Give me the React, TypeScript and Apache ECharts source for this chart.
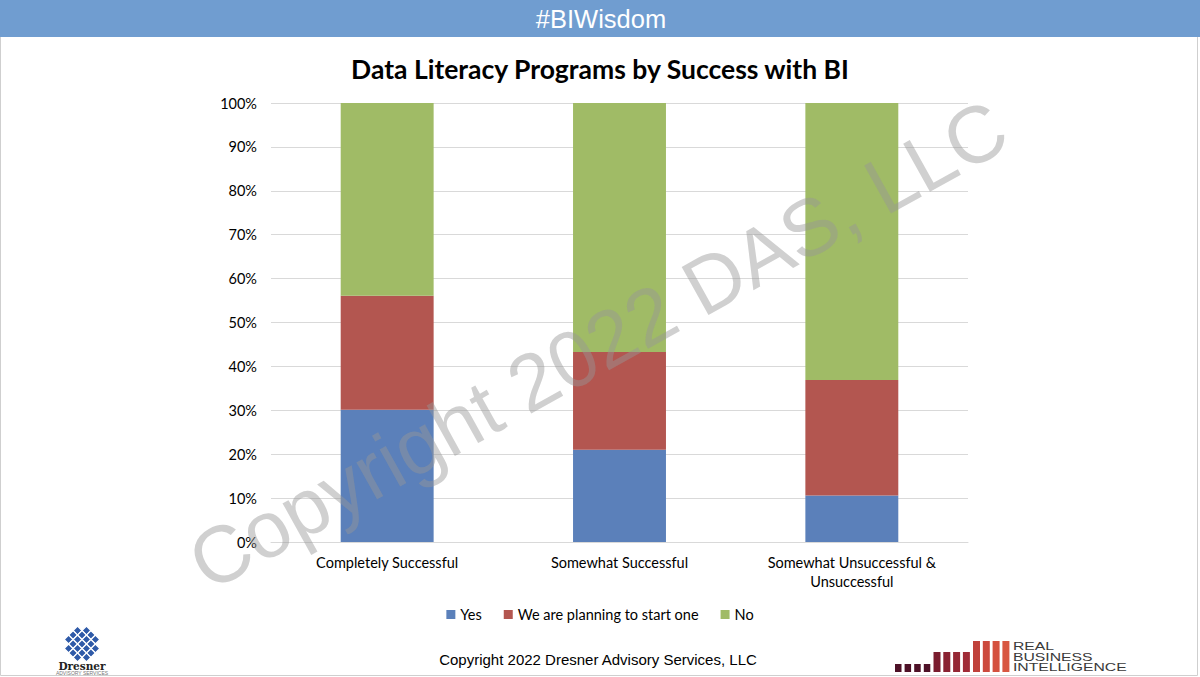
import React, { useEffect, useRef } from "react";
import * as echarts from "echarts";

const categories = ["Completely Successful", "Somewhat Successful", "Somewhat Unsuccessful &\nUnsuccessful"];
const seriesNames = ["Yes", "We are planning to start one", "No"];
const yesValues = [30.1, 21.0, 10.6];
const planningValues = [26.0, 22.3, 26.3];
const noValues = [43.9, 56.7, 63.1];
const seriesColors = ["#5B80BA", "#B35650", "#A0BB66"];

const smallBars = [0, 1, 2, 3];
const midBars = [0, 1, 2, 3];
const tallBars = [0, 1, 2, 3];

function buildRbiLogo(): any[] {
  const els: any[] = [];
  const bottom = 672;
  smallBars.forEach((i) => {
    els.push({ type: "rect", shape: { x: 895 + i * 9.6, y: bottom - 8, width: 6.5, height: 8 }, style: { fill: "#4e1127" } });
  });
  midBars.forEach((i) => {
    els.push({ type: "rect", shape: { x: 933.5 + i * 9.8, y: bottom - 20, width: 7, height: 20 }, style: { fill: ["#7a1c2e", "#8a2232", "#952734", "#a02b36"][i] } });
  });
  tallBars.forEach((i) => {
    els.push({ type: "rect", shape: { x: 973 + i * 9.8, y: bottom - 31, width: 7, height: 31 }, style: { fill: ["#c0413b", "#cc4a3d", "#d4513f", "#d85741"][i] } });
  });
  els.push({
    type: "text",
    x: 1013,
    y: 641.5,
    scaleX: 1.5,
    style: {
      text: "REAL\nBUSINESS\nINTELLIGENCE",
      x: 0,
      y: 0,
      fill: "#3a3a3a",
      font: "10.5px 'Liberation Sans', Arial, sans-serif",
      lineHeight: 10.5,
      verticalAlign: "top",
      align: "left",
    },
  });
  return els;
}

function buildDresnerLogo(): any[] {
  const els: any[] = [];
  const cx = 82;
  const cy = 644;
  const s = 6.2;
  const cells: number[][] = [];
  for (let r = -2; r <= 2; r++) {
    for (let c = -2; c <= 2; c++) {
      if (Math.abs(r) + Math.abs(c) <= 3 && !(Math.abs(r) === 2 && Math.abs(c) === 2)) cells.push([r, c]);
    }
  }
  cells.forEach(([r, c]) => {
    els.push({
      type: "rect",
      x: cx + (c - r) * s * 0.72,
      y: cy + (c + r) * s * 0.72,
      rotation: Math.PI / 4,
      shape: { x: -s / 2, y: -s / 2, width: s, height: s },
      style: { fill: "#2f5aa8", stroke: "#ffffff", lineWidth: 1.2 },
    });
  });
  els.push({ type: "text", style: { text: "Dresner", x: cx, y: 665.5, fill: "#222", font: "bold 10.5px 'DejaVu Serif', serif", align: "center", verticalAlign: "middle" } });
  els.push({ type: "text", style: { text: "ADVISORY SERVICES", x: cx, y: 673, fill: "#777", font: "5px 'Liberation Sans', Arial, sans-serif", align: "center", verticalAlign: "middle" } });
  return els;
}

export default function App() {
  const ref = useRef<HTMLDivElement>(null);
  useEffect(() => {
    document.body.style.margin = "0";
    const chart = echarts.init(ref.current!, null, { renderer: "svg" });
    const values = [yesValues, planningValues, noValues];
    chart.setOption({
      animation: false,
      backgroundColor: "#ffffff",
      title: {
        text: "Data Literacy Programs by Success with BI",
        left: "center",
        top: 50,
        textStyle: { fontFamily: "Lato", fontWeight: "bold", fontSize: 26.5, color: "#000" },
      },
      legend: {
        bottom: 50,
        left: "center",
        icon: "rect",
        itemWidth: 9,
        itemHeight: 9,
        itemGap: 22,
        textStyle: { fontFamily: "Lato", fontSize: 14.5, color: "#000" },
        data: seriesNames,
      },
      grid: { left: 271, right: 232, top: 103, bottom: 135, containLabel: false },
      xAxis: {
        type: "category",
        data: categories,
        axisLine: { show: true, lineStyle: { color: "#d9d9d9" } },
        axisTick: { show: false },
        axisLabel: { fontFamily: "Lato", fontSize: 14.5, color: "#000", margin: 11, lineHeight: 19 },
      },
      yAxis: {
        type: "value",
        min: 0,
        max: 100,
        interval: 10,
        axisLine: { show: false },
        axisTick: { show: false },
        splitLine: { lineStyle: { color: "#d9d9d9" } },
        axisLabel: { formatter: "{value}%", fontFamily: "Lato", fontSize: 14.5, color: "#000", margin: 14 },
      },
      series: seriesNames.map((name, i) => ({
        name,
        type: "bar",
        stack: "total",
        barWidth: "40%",
        data: values[i],
        itemStyle: { color: seriesColors[i] },
      })),
      graphic: [
        { type: "rect", z: 10, shape: { x: 0, y: 0, width: 1200, height: 37 }, style: { fill: "#709DD0" } },
        { type: "text", z: 11, style: { text: "#BIWisdom", x: 601, y: 19, fill: "#ffffff", font: "25.5px 'Liberation Sans', Arial, sans-serif", align: "center", verticalAlign: "middle" } },
        { type: "text", z: 11, style: { text: "Copyright 2022 Dresner Advisory Services, LLC", x: 598, y: 659, fill: "#000", font: "15px 'Liberation Sans', Arial, sans-serif", align: "center", verticalAlign: "middle" } },
        { type: "rect", z: 1, shape: { x: 0.5, y: 0.5, width: 1197, height: 675 }, style: { fill: "none", stroke: "#cfcfcf", lineWidth: 1 } },
        ...buildDresnerLogo(),
        ...buildRbiLogo(),
        {
          type: "text",
          z: 100,
          x: 598,
          y: 345,
          rotation: 0.507,
          style: {
            text: "Copyright 2022 DAS, LLC",
            x: 0,
            y: 0,
            fill: "rgba(150,150,150,0.45)",
            font: "80px 'Liberation Sans', Arial, sans-serif",
            align: "center",
            verticalAlign: "middle",
          },
        },
      ],
    });
    return () => chart.dispose();
  }, []);
  return <div ref={ref} style={{ position: "absolute", left: 0, top: 0, width: 1200, height: 677 }} />;
}
